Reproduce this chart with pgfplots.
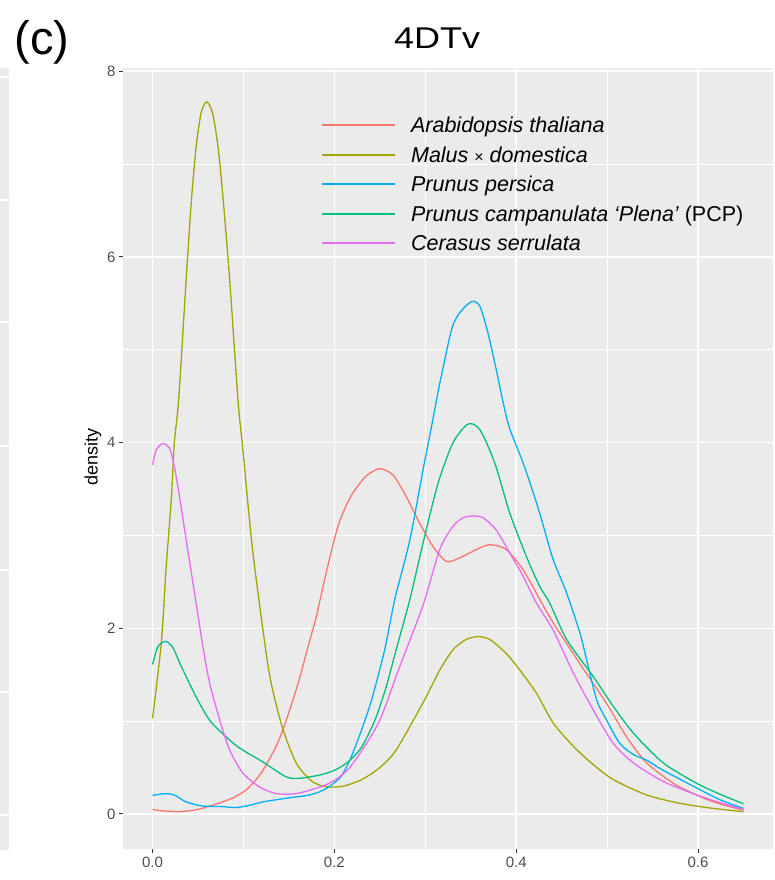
\documentclass[border=0pt]{standalone}
\usepackage{fontspec}
\setmainfont{Liberation Sans}
\usepackage{pgfplots}
\pgfplotsset{compat=1.18}

\definecolor{panel}{HTML}{EBEBEB}
\definecolor{tickcol}{HTML}{333333}
\definecolor{labcol}{HTML}{4D4D4D}
\definecolor{colara}{HTML}{F8766D}
\definecolor{colmal}{HTML}{A3A500}
\definecolor{colper}{HTML}{00B0F6}
\definecolor{colcam}{HTML}{00BF7D}
\definecolor{colcer}{HTML}{E76BF3}

\begin{document}
\begin{tikzpicture}
% strip of the neighbouring panel at the left edge
\fill[panel] (0pt,30pt) rectangle (9pt,812pt);
\foreach \y in {77,200,322,446,570,692,815}
  \draw[white, line width=1.2pt] (0pt,{(880-\y)*1pt}) -- (9pt,{(880-\y)*1pt});

\begin{axis}[
  at={(123pt,30.5pt)}, anchor=south west,
  scale only axis, width=650pt, height=781pt,
  xmin=-0.0325, xmax=0.6825, ymin=-0.3825, ymax=8.03,
  axis background/.style={fill=panel},
  axis x line*=bottom, axis y line*=left,
  axis line style={draw=none},
  xtick={0,0.2,0.4,0.6}, ytick={0,2,4,6,8},
  minor xtick={0.1,0.3,0.5}, minor ytick={1,3,5,7},
  grid=both,
  major grid style={white, line width=1.6pt},
  minor grid style={white, line width=0.8pt},
  tick align=outside, major tick length=4pt, minor tick length=0pt,
  major tick style={color=tickcol, line width=1pt},
  /pgf/number format/assume math mode=true,
  tick label style={font=\fontsize{15}{18}\selectfont, text=labcol},
  xticklabel style={/pgf/number format/.cd, fixed, fixed zerofill, precision=1},
  ylabel={density},
  ylabel style={font=\fontsize{18}{20}\selectfont, at={(axis description cs:-0.0462,0.5026)}, anchor=center},
  legend cell align=left,
  legend image code/.code={\draw[#1, line width=1.9pt] (0pt,0pt) -- (73pt,0pt);},
  legend style={draw=none, fill=none, at={(0.3046,0.9466)}, anchor=north west,
    inner sep=0pt, row sep=0pt,
    font=\fontsize{21.5}{24}\selectfont,
    nodes={text height=18pt, text depth=3pt, inner ysep=4.25pt, inner xsep=0pt},
    /tikz/every odd column/.append style={column sep=15pt}},
  every axis plot/.append style={line width=1.3pt, smooth, tension=0.45},
]
% Arabidopsis thaliana
\addplot[color=colara] coordinates {
(0,0.05) (0.01,0.035) (0.03,0.025) (0.05,0.05) (0.074,0.12) (0.09,0.18) (0.103,0.26)
(0.113,0.36) (0.1215,0.47) (0.136,0.73) (0.145,0.95) (0.1545,1.23) (0.162,1.47) (0.171,1.80)
(0.18,2.12) (0.1875,2.45) (0.196,2.8) (0.204,3.10) (0.212,3.30) (0.2205,3.46) (0.235,3.64)
(0.25,3.72) (0.2646,3.65) (0.279,3.42) (0.294,3.13) (0.3086,2.88) (0.3233,2.72) (0.338,2.76)
(0.3564,2.85) (0.371,2.90) (0.389,2.85) (0.4077,2.63) (0.426,2.31) (0.44,2.07) (0.47,1.62)
(0.4995,1.19) (0.5215,0.83) (0.5435,0.55) (0.573,0.33) (0.595,0.22) (0.617,0.13) (0.65,0.04)
};
\addlegendentry{\itshape Arabidopsis thaliana}
% Malus x domestica
\addplot[color=colmal] coordinates {
(0,1.03) (0.0096,1.84) (0.015,2.66) (0.0206,3.39) (0.024,4.0) (0.0287,4.46) (0.037,5.76)
(0.0426,6.59) (0.048,7.19) (0.0536,7.56) (0.0598,7.67) (0.066,7.55) (0.072,7.19) (0.0774,6.65)
(0.0848,5.76) (0.094,4.46) (0.0994,3.92) (0.110,2.85) (0.125,1.73) (0.132,1.34) (0.1435,0.91)
(0.158,0.55) (0.173,0.37) (0.184,0.31) (0.195,0.29) (0.21,0.3) (0.23,0.37) (0.25,0.5)
(0.268,0.69) (0.2976,1.2) (0.316,1.55) (0.3306,1.77) (0.345,1.88) (0.358,1.91) (0.371,1.88)
(0.389,1.73) (0.404,1.55) (0.4224,1.30) (0.4407,0.98) (0.4628,0.73) (0.485,0.53) (0.507,0.37)
(0.5435,0.205) (0.58,0.115) (0.617,0.06) (0.65,0.025)
};
\addlegendentry{\itshape Malus {\upshape\fontsize{16}{18}\selectfont ×} domestica}
% Prunus persica
\addplot[color=colper] coordinates {
(0,0.2) (0.015,0.22) (0.025,0.2) (0.037,0.13) (0.055,0.086) (0.075,0.08) (0.092,0.07)
(0.105,0.09) (0.1215,0.13) (0.147,0.17) (0.17,0.2) (0.184,0.24) (0.195,0.3) (0.207,0.4)
(0.217,0.58) (0.229,0.88) (0.241,1.23) (0.2554,1.77) (0.2664,2.31) (0.283,2.95) (0.2976,3.71)
(0.307,4.18) (0.316,4.64) (0.329,5.22) (0.338,5.40) (0.351,5.52) (0.36,5.47) (0.369,5.18)
(0.378,4.79) (0.391,4.21) (0.4077,3.78) (0.4224,3.35) (0.43,3.1) (0.4407,2.74) (0.4555,2.38)
(0.4701,1.95) (0.4775,1.66) (0.4885,1.23) (0.4995,1.01) (0.514,0.76) (0.529,0.64) (0.5435,0.58)
(0.5618,0.47) (0.5986,0.28) (0.625,0.15) (0.65,0.06)
};
\addlegendentry{\itshape Prunus persica}
% Prunus campanulata 'Plena'
\addplot[color=colcam] coordinates {
(0,1.61) (0.0058,1.80) (0.0143,1.86) (0.0224,1.79) (0.0316,1.59) (0.048,1.26) (0.0628,1.01)
(0.081,0.83) (0.0958,0.71) (0.1215,0.56) (0.147,0.40) (0.162,0.385) (0.184,0.42) (0.2,0.47)
(0.215,0.56) (0.23,0.72) (0.245,1.02) (0.257,1.37) (0.268,1.77) (0.283,2.31) (0.2976,2.92)
(0.314,3.56) (0.3306,4.0) (0.347,4.20) (0.36,4.14) (0.3765,3.78) (0.393,3.24) (0.4114,2.77)
(0.426,2.45) (0.437,2.27) (0.4555,1.88) (0.4848,1.48) (0.5068,1.16) (0.529,0.87) (0.5618,0.55)
(0.5986,0.33) (0.625,0.21) (0.65,0.11)
};
\addlegendentry{{\itshape Prunus campanulata ‘Plena’} (PCP)}
% Cerasus serrulata
\addplot[color=colcer] coordinates {
(0,3.76) (0.004,3.92) (0.0113,3.99) (0.0187,3.94) (0.024,3.74) (0.0297,3.42) (0.037,2.95)
(0.048,2.27) (0.0554,1.80) (0.0628,1.41) (0.074,1.01) (0.0848,0.69) (0.0994,0.44) (0.1178,0.29)
(0.136,0.22) (0.158,0.22) (0.184,0.29) (0.2,0.36) (0.215,0.48) (0.23,0.68) (0.25,1.01)
(0.272,1.59) (0.2976,2.25) (0.316,2.85) (0.3306,3.10) (0.3416,3.19) (0.3526,3.21) (0.3637,3.19)
(0.378,3.06) (0.393,2.81) (0.4077,2.56) (0.4224,2.27) (0.4407,1.98) (0.4628,1.52) (0.4848,1.12)
(0.5068,0.76) (0.529,0.55) (0.5618,0.35) (0.5986,0.205) (0.625,0.12) (0.65,0.05)
};
\addlegendentry{\itshape Cerasus serrulata}
\end{axis}

\node[font=\fontsize{30}{32}\selectfont, anchor=base, inner sep=0pt] at (437pt,831pt) {\scalebox{1.2}[1]{4DTv}};
\node[font=\fontsize{47}{50}\selectfont, anchor=base, inner sep=0pt] at (42pt,825pt) {(c)};

\pgfresetboundingbox
\path[use as bounding box] (0pt,0pt) rectangle (774pt,880pt);
\end{tikzpicture}
\end{document}
